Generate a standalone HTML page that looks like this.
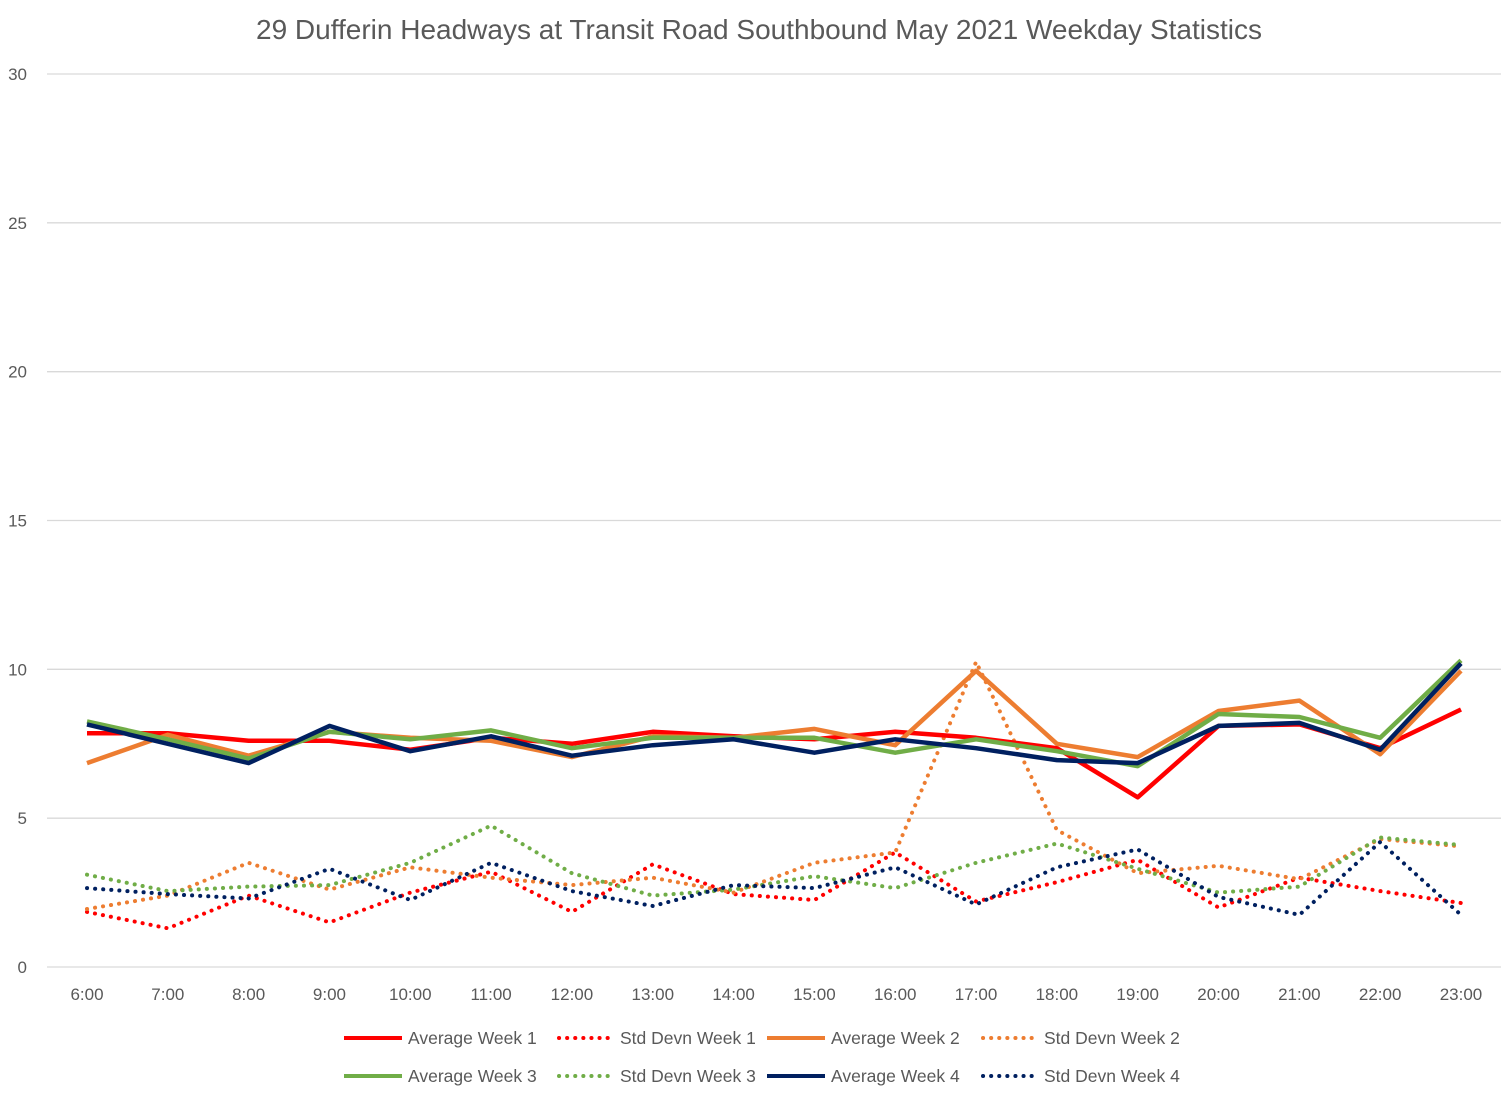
<!DOCTYPE html>
<html><head><meta charset="utf-8"><style>
html,body{margin:0;padding:0;background:#fff;}
svg{display:block;font-family:"Liberation Sans",Arial,sans-serif;}
</style></head><body>
<svg id="chart" width="1507" height="1098">
<text x="759" y="39" text-anchor="middle" font-size="28" fill="#595959">29 Dufferin Headways at Transit Road Southbound May 2021 Weekday Statistics</text>
<g id="grid"></g><g id="series"></g><g id="legend"></g>
</svg>
<script>
const categories=["6:00","7:00","8:00","9:00","10:00","11:00","12:00","13:00","14:00","15:00","16:00","17:00","18:00","19:00","20:00","21:00","22:00","23:00"];
const yTicks=[0,5,10,15,20,25,30];
const avgWeek1=[7.85,7.85,7.6,7.6,7.3,7.7,7.5,7.9,7.75,7.65,7.9,7.7,7.35,5.7,8.1,8.15,7.35,8.65];
const sdWeek1=[1.85,1.3,2.4,1.5,2.5,3.2,1.85,3.45,2.45,2.25,3.85,2.2,2.85,3.6,2.0,3.0,2.55,2.15];
const avgWeek2=[6.85,7.8,7.1,7.9,7.7,7.6,7.05,7.75,7.7,8.0,7.45,9.95,7.5,7.05,8.6,8.95,7.15,9.95];
const sdWeek2=[1.95,2.4,3.5,2.6,3.35,3.0,2.75,3.0,2.5,3.5,3.85,10.25,4.6,3.15,3.4,2.95,4.3,4.05];
const avgWeek3=[8.25,7.65,7.0,7.9,7.65,7.95,7.35,7.7,7.7,7.7,7.2,7.65,7.25,6.75,8.5,8.4,7.7,10.3];
const sdWeek3=[3.1,2.55,2.7,2.75,3.5,4.75,3.15,2.4,2.6,3.05,2.65,3.5,4.15,3.3,2.5,2.7,4.35,4.1];
const avgWeek4=[8.15,7.5,6.85,8.1,7.25,7.75,7.1,7.45,7.65,7.2,7.65,7.35,6.95,6.85,8.1,8.2,7.3,10.2];
const sdWeek4=[2.65,2.45,2.3,3.3,2.25,3.5,2.55,2.05,2.75,2.65,3.35,2.1,3.35,3.95,2.35,1.75,4.2,1.75];

const NS="http://www.w3.org/2000/svg";
const x0=87,x1=1461,yBase=967,yTop=74,yMax=30;
const xs=i=>x0+(x1-x0)*i/(categories.length-1);
const ys=v=>yBase-(yBase-yTop)*v/yMax;
function mk(tag,attrs,parent){const e=document.createElementNS(NS,tag);for(const k in attrs)e.setAttribute(k,attrs[k]);parent.appendChild(e);return e;}
const grid=document.getElementById('grid');
yTicks.forEach(t=>{
 const l=mk('line',{x1:47,x2:1501,y1:ys(t),y2:ys(t),stroke:'#d9d9d9','stroke-width':1.3},grid);
 
 
 const tx=mk('text',{x:27,y:ys(t)+6,'text-anchor':'end','font-size':17,fill:'#595959'},grid);
 tx.textContent=t;
 
 
});
categories.forEach((c,i)=>{
 const tx=mk('text',{x:xs(i),y:1000,'text-anchor':'middle','font-size':17,fill:'#595959'},grid);
 tx.textContent=c;
 
 
});
const series=[
 {name:"Average Week 1",d:avgWeek1,c:"#ff0000",dot:false,id:"avg-week-1"},
 {name:"Std Devn Week 1",d:sdWeek1,c:"#ff0000",dot:true,id:"sd-week-1"},
 {name:"Average Week 2",d:avgWeek2,c:"#ed7d31",dot:false,id:"avg-week-2"},
 {name:"Std Devn Week 2",d:sdWeek2,c:"#ed7d31",dot:true,id:"sd-week-2"},
 {name:"Average Week 3",d:avgWeek3,c:"#70ad47",dot:false,id:"avg-week-3"},
 {name:"Std Devn Week 3",d:sdWeek3,c:"#70ad47",dot:true,id:"sd-week-3"},
 {name:"Average Week 4",d:avgWeek4,c:"#002060",dot:false,id:"avg-week-4"},
 {name:"Std Devn Week 4",d:sdWeek4,c:"#002060",dot:true,id:"sd-week-4"}];
const sg=document.getElementById('series');
const order=[1,3,5,7,0,2,4,6];
order.forEach(k=>{const s=series[k];
 const pts=s.d.map((v,i)=>xs(i).toFixed(1)+','+ys(v).toFixed(1)).join(' ');
 const a={points:pts,fill:'none',stroke:s.c,'stroke-width':s.dot?4:4.5,'stroke-linejoin':'round'};
 if(s.dot){a['stroke-dasharray']='0.1 8';a['stroke-linecap']='round';}
 const p=mk('polyline',a,sg);
 
 
});
const lg=document.getElementById('legend');
const colX=[344,556,767,980];
series.forEach((s,k)=>{
 const row=Math.floor(k/4),col=k%4,y=row?1076:1038,x=colX[col];
 const g=mk('g',{},lg);
 
 
 const a={x1:x,x2:x+58,y1:y,y2:y,stroke:s.c,'stroke-width':4};
 if(s.dot){a['stroke-dasharray']='0.1 8';a['stroke-linecap']='round';a.x1=x+3;}
 mk('line',a,g);
 const t=mk('text',{x:x+64,y:y+6,'font-size':17.5,fill:'#595959'},g);
 t.textContent=s.name;
});
</script>
</body></html>
